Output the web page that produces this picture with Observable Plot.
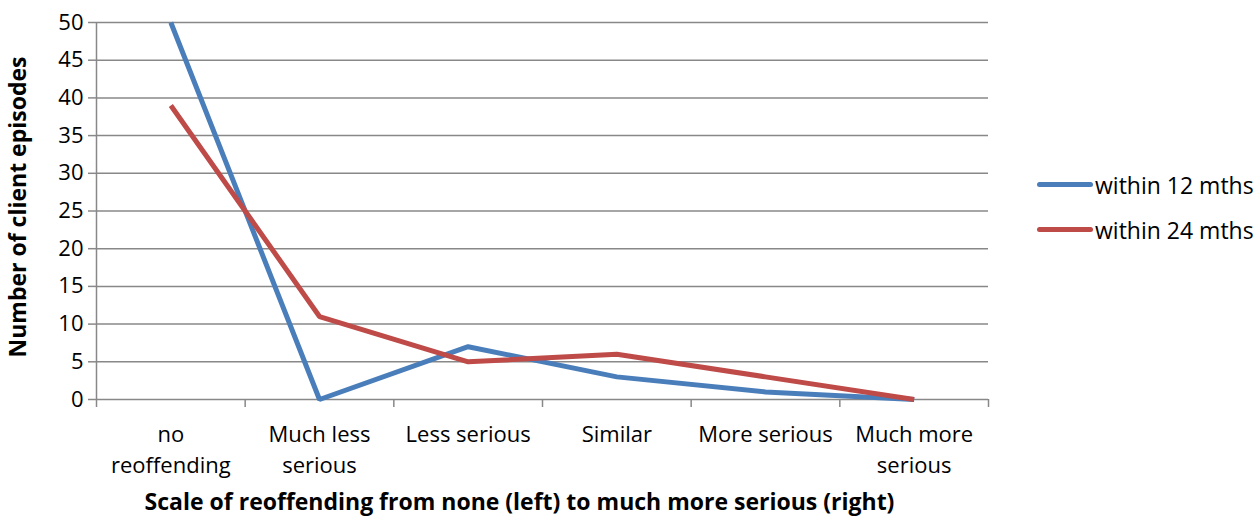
<!DOCTYPE html>
<html>
<head>
<meta charset="utf-8">
<script src="https://cdn.jsdelivr.net/npm/d3@7"></script>
<script src="https://cdn.jsdelivr.net/npm/@observablehq/plot@0.6"></script>
<style>
  html, body { margin: 0; padding: 0; background: #fff; }
  #wrap { position: relative; width: 1259px; height: 519px; font-family: "Open Sans", Lato, sans-serif; }
  #legend { position: absolute; left: 1037px; top: 162px; font-size: 23px; color: #000; }
  .item { display: flex; align-items: center; height: 45px; }
  .swatch { width: 56px; height: 5px; border-radius: 3px; margin-right: 2px; }
</style>
</head>
<body>
<div id="wrap"><div id="legend"></div></div>
<script>
// Reoffending outcome categories, least to most serious
const categories = ["no\nreoffending", "Much less\nserious", "Less serious", "Similar", "More serious", "Much more\nserious"];
const within12 = [50, 0, 7, 3, 1, 0];
const within24 = [39, 11, 5, 6, 3, 0];
const seriesNames = ["within 12 mths", "within 24 mths"];
const seriesColors = ["#4a7ebb", "#be4b48"];
const yTicks = [0, 5, 10, 15, 20, 25, 30, 35, 40, 45, 50];

const idx = d3.range(categories.length);
const bounds = d3.range(categories.length + 1).map(i => i - 0.5);
const rows = [
  ...idx.map(i => ({i, v: within12[i], s: seriesNames[0]})),
  ...idx.map(i => ({i, v: within24[i], s: seriesNames[1]}))
];

const font = "'Open Sans', Lato, sans-serif";
const chart = Plot.plot({
  width: 1259,
  height: 519,
  marginLeft: 96,
  marginRight: 271,
  marginTop: 22,
  marginBottom: 120,
  style: {fontFamily: font, fontSize: "22px", color: "#000", background: "#fff"},
  x: {type: "linear", domain: [bounds[0], bounds[bounds.length - 1]]},
  y: {domain: [0, 50]},
  color: {domain: seriesNames, range: seriesColors},
  marks: [
    Plot.gridY(yTicks, {stroke: "#888", strokeOpacity: 1, strokeWidth: 1.5}),
    Plot.ruleX([bounds[0]], {stroke: "#888", strokeWidth: 1.5}),
    Plot.axisY(yTicks, {tickSize: 8, tickPadding: 5, stroke: "#888", strokeWidth: 1.5, fontSize: 22, label: null}),
    Plot.axisX(bounds, {tickSize: 8, tickFormat: () => "", stroke: "#888", strokeWidth: 1.5, label: null}),
    Plot.axisX(idx, {tickSize: 0, tickPadding: 20, tickFormat: i => categories[i], fontSize: 22, lineHeight: 1.42, label: null}),
    Plot.text(["Scale of reoffending from none (left) to much more serious (right)"], {
      frameAnchor: "bottom", dy: 110, dx: -23, fontWeight: "bold", fontSize: 23
    }),
    Plot.text(["Number of client episodes"], {
      frameAnchor: "left", textAnchor: "middle", dx: -78, dy: -4, rotate: -90, fontWeight: "bold", fontSize: 23
    }),
    Plot.line(rows, {x: "i", y: "v", z: "s", stroke: "s", strokeWidth: 5, strokeLinejoin: "miter", strokeLinecap: "butt"})
  ]
});
document.getElementById("wrap").prepend(chart);

const legend = document.getElementById("legend");
seriesNames.forEach((name, k) => {
  const item = document.createElement("div");
  item.className = "item";
  const sw = document.createElement("div");
  sw.className = "swatch";
  sw.style.background = seriesColors[k];
  const label = document.createElement("span");
  label.textContent = name;
  item.append(sw, label);
  legend.append(item);
});
</script>
</body>
</html>
